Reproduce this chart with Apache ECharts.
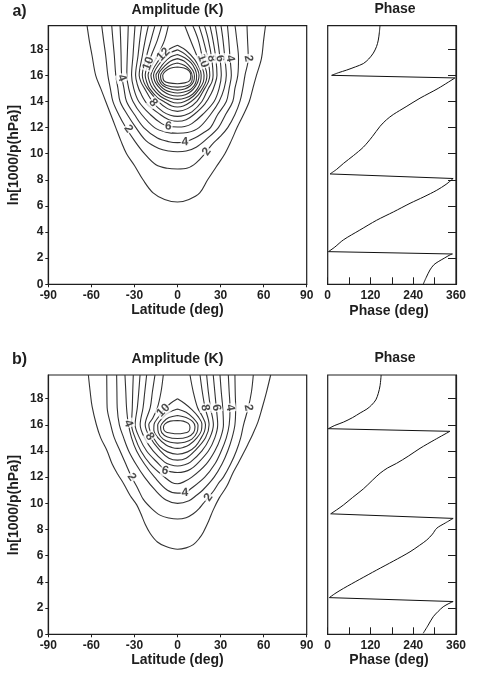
<!DOCTYPE html>
<html>
<head>
<meta charset="utf-8">
<script src="https://cdn.jsdelivr.net/npm/echarts@6/dist/echarts.min.js"></script>
<style>
html, body { margin: 0; padding: 0; background: #fff; }
#main { width: 477px; height: 673px; }
</style>
</head>
<body>
<div id="main"></div>
<script>
// tick labels
var latTicks = [-90, -60, -30, 0, 30, 60, 90];
var zTicks = [0, 2, 4, 6, 8, 10, 12, 14, 16, 18];
var phaseLabels = [0, 120, 240, 360];
var phaseTicks = [0, 60, 120, 180, 240, 300, 360];

// panel a: amplitude contours, [latitude, ln(1000/p)], levels 1..17 K
var ampA1 = [[-63,19.8],[-61.5,18.7],[-59.5,17.5],[-57,16],[-53.5,15],[-50,14],[-46.5,13],[-43,12],[-39.5,11],[-35.5,10],[-30,9.1],[-24,8],[-17,7],[-9,6.5],[0,6.3],[8,6.5],[15.5,7],[21,8],[27,9],[33,10],[37.5,11],[41.5,12],[46,13],[50,14],[52.5,15],[55,16],[58.5,17.3],[60,18.7],[61.3,19.8]];
var ampA2 = [[-52.8,19.8],[-51.5,18.7],[-50,17.5],[-48.5,16],[-46.8,15],[-45,14],[-41,13],[-36,12],[-30,11],[-23,10],[-15,9.15],[-7,8.88],[0,8.83],[7,8.9],[13,9.3],[19,10],[24,10.7],[29.6,11.3],[35,12],[40,13],[43.5,14],[45.5,15],[47,16],[49.3,17.3],[48.8,18.7],[48.4,19.8]];
var ampA3 = [[-45.8,19.8],[-45,18.7],[-44,17.5],[-43,16],[-41.5,15],[-40,14],[-35,13],[-29,12],[-22,11],[-13,10.4],[-6,10.2],[0,10.15],[6,10.2],[13,10.5],[20,11.1],[28.5,12],[33.5,13],[38.5,14],[40,15],[42,16],[42.5,17.3],[41.3,18.7],[40.1,19.8]];
var ampA4 = [[-40,19.8],[-39.6,18.7],[-39.3,17.5],[-38.9,16],[-37.3,15],[-35.5,14],[-30,13],[-23.5,12],[-14,11.2],[-6,10.92],[0,10.85],[5.2,10.9],[12,11.2],[18,11.6],[23,12],[28,13],[34,14],[36,15],[37.5,16],[36.6,17.3],[35.7,18.7],[34.8,19.8]];
var ampA5 = [[-34.3,19.8],[-34.6,18.7],[-35,17.5],[-35.3,16],[-34,15],[-31,14],[-25,13],[-16,12],[-8,11.65],[0,11.56],[7,11.62],[15,12],[23,13],[29,14],[32.5,15],[34,16],[33,17.3],[31.7,18.7],[30.3,19.8]];
var ampA6 = [[-29.6,19.8],[-30.3,18.7],[-31,17.5],[-32,16],[-30.5,15],[-27,14],[-19,13],[-11,12.3],[-6.4,12.1],[0,12.04],[5,12.08],[10,12.3],[17.5,13],[25.5,14],[29,15],[30.5,16],[29.6,17.3],[28,18.7],[26.4,19.8]];
var ampA7 = [[-25,19.8],[-26.3,18.7],[-27.5,17.5],[-29.2,16],[-28,15.3],[-25.5,14.6],[-21,13.8],[-12,13],[-6,12.6],[0,12.48],[6,12.6],[11.5,13],[19,13.8],[23.5,14.6],[26,15.3],[27.5,16],[26.7,17.3],[24.7,18.7],[22.6,19.8]];
var ampA8 = [[-20.3,19.8],[-22.5,18.7],[-24.5,17.5],[-26.7,16],[-25.5,15.5],[-23,15],[-16.9,13.9],[-10,13.2],[-5,12.95],[0,12.86],[5,12.95],[10,13.2],[17,14],[21.5,15],[24,15.5],[24.8,16],[23.8,17.3],[21.5,18.7],[18.8,19.8]];
var ampA9 = [[-15.7,19.8],[-18.5,18.7],[-21.5,17.5],[-24.5,16],[-23.5,15.5],[-21,15],[-13.5,14],[-7,13.45],[0,13.24],[7,13.45],[13.5,14],[19,15],[21.5,15.5],[22.5,16],[21,17.3],[18,18.7],[14.9,19.8]];
var ampA10 = [[-11,19.8],[-14,18.7],[-18,17.6],[-20.3,16.9],[-22.5,16],[-21.5,15.5],[-19.5,15],[-14,14.3],[-9.5,14],[-4,13.65],[0,13.57],[4,13.65],[9.5,14],[14.5,14.5],[18,15.1],[20,15.6],[20.5,16],[17.9,17.1],[14.5,18.7],[10.7,19.8]];
var ampA11 = [[-6.4,19.8],[-9,18.7],[-13.5,17.6],[-17.5,16.8],[-20.5,16],[-19.5,15.5],[-17.3,15],[-12,14.4],[-5,14],[0,13.88],[5,14],[11,14.4],[15.5,15],[18,15.5],[18.5,16],[16.5,16.8],[13.5,17.5],[9,18.7],[5.1,19.8]];
var ampA12 = [[0,18.3],[-5,18.05],[-9.9,17.6],[-14,17],[-17.3,16.4],[-18.5,16],[-17.5,15.5],[-15,15],[-11,14.55],[-6,14.28],[0,14.16],[6,14.28],[10.5,14.55],[14,15],[16,15.5],[16.5,16],[15.5,16.5],[12,17.2],[6,17.9],[0,18.3]];
var ampA13 = [[0,17.95],[-5,17.72],[-9.5,17.3],[-13.5,16.75],[-16,16.3],[-16.7,16],[-15.8,15.55],[-13.5,15.15],[-10,14.78],[-5.5,14.52],[0,14.42],[5.5,14.52],[9.5,14.78],[12.5,15.15],[14.3,15.55],[15,16],[14,16.45],[11,17],[5.5,17.6],[0,17.95]];
var ampA14 = [[0,17.6],[-5,17.4],[-9.5,16.95],[-13,16.4],[-15,16],[-14.2,15.55],[-12,15.2],[-8.5,14.88],[-4.5,14.72],[0,14.65],[4.5,14.72],[8.5,14.88],[11.5,15.2],[13,15.55],[13.3,16],[12.3,16.45],[9.5,16.95],[5,17.35],[0,17.6]];
var ampA15 = [[0,17.28],[-5,17.08],[-9.5,16.65],[-12.5,16.25],[-13.3,15.95],[-12.5,15.55],[-10,15.2],[-5,14.95],[0,14.87],[5,14.95],[9,15.2],[11.3,15.55],[11.8,15.95],[10.8,16.35],[8,16.75],[4.5,17.1],[0,17.28]];
var ampA16 = [[0,16.95],[-5,16.78],[-9,16.45],[-11.5,16.1],[-11.8,15.9],[-10.8,15.5],[-7.5,15.22],[0,15.1],[7,15.22],[9.8,15.5],[10.3,15.9],[9,16.35],[5,16.75],[0,16.95]];
var ampA17 = [[0,16.64],[-5,16.55],[-8.5,16.3],[-10.3,16],[-9.5,15.6],[-6,15.42],[0,15.36],[5,15.42],[8.5,15.6],[9.3,16],[8,16.35],[4.5,16.56],[0,16.64]];

// panel b: amplitude contours, levels 1..13 K
var ampB1 = [[-62.1,19.8],[-60.8,18.5],[-59.5,17.4],[-56.5,16],[-53.5,15],[-49,14],[-45.5,13],[-41.5,12.2],[-37.5,11.5],[-33,10.6],[-28.5,9.9],[-25.5,9.2],[-22.5,8.4],[-19,7.7],[-14,7.05],[-8,6.7],[0,6.5],[6,6.6],[11,6.85],[15,7.3],[18,7.8],[21.5,8.6],[24.9,9.5],[29,10.4],[34.3,11.3],[38.5,12.3],[42,13],[45.8,13.8],[49,14.5],[52.5,15.3],[56,16.2],[59,17.3],[62,18.5],[64.9,19.8]];
var ampB2 = [[-49.3,19.8],[-49.2,18.5],[-49,17.3],[-46.5,16],[-44,15],[-40,14],[-36,13],[-31.9,12],[-27.5,11.1],[-23.8,10.3],[-18,9.6],[-12.2,9.1],[-6,8.88],[0,8.8],[6,8.9],[11,9.2],[15,9.6],[18,10],[21.5,10.45],[25.5,11],[29,11.6],[32,12],[37,13],[41,14],[44,15],[46,16],[49.3,17.3],[51.5,18.5],[52.8,19.8]];
var ampB3 = [[-42.4,19.8],[-42.2,18.5],[-42,17.3],[-40.5,16],[-37.5,15],[-34,14],[-29,13],[-23,12],[-15.5,11],[-8,10.25],[0,10],[8,10.2],[13,10.6],[17.5,11],[25.5,12],[31,13],[35,14],[38,15],[40,16],[40.5,17.3],[40.2,18.5],[40,19.8]];
var ampB4 = [[-36.6,19.8],[-36,18.5],[-35.5,17.3],[-34.3,16.1],[-32,15],[-28.5,14],[-23,13],[-16,12],[-7,11],[0,10.78],[5.2,10.8],[8,11],[19,12],[26,13],[30.5,14],[34,15],[36,16],[36.6,17.3],[36,18.5],[35.4,19.8]];
var ampB5 = [[-30.8,19.8],[-31.2,18.5],[-31.5,17.3],[-32,16],[-29.5,15],[-25.5,14],[-19,13],[-9,12],[-4,11.6],[0,11.5],[4,11.62],[10,12],[20,13],[26,14],[30,15],[32,16],[31.5,17.3],[30.5,18.5],[29.6,19.8]];
var ampB6 = [[-26.1,19.8],[-27,18.5],[-28,17.3],[-29.5,16],[-26.5,15],[-21.5,14],[-13,13],[-8.7,12.55],[-4,12.4],[0,12.35],[5,12.42],[9,12.6],[13.5,13],[21.5,14],[26,15],[28,16],[27,17.3],[26,18.5],[24.9,19.8]];
var ampB7 = [[-21.5,19.8],[-22.8,18.5],[-24,17.3],[-26,16],[-23,15],[-17,14],[-9,13.15],[-5,12.95],[0,12.85],[5,12.95],[9,13.15],[17,14],[22.5,15],[25,16],[23,17.3],[21.5,18.5],[20.3,19.8]];
var ampB8 = [[-15.7,19.8],[-17.5,18.5],[-19,17.3],[-22.5,16],[-19.5,15.1],[-12,14],[-6,13.45],[0,13.3],[6,13.45],[12,14],[19.5,15],[22,16],[19.2,17.3],[17.3,18.5],[15.7,19.8]];
var ampB9 = [[-9.9,19.8],[-11.5,18.5],[-14,17.3],[-17.5,16.45],[-20,16],[-19,15.5],[-16.8,15],[-12.5,14.35],[-7,13.93],[0,13.75],[7,13.93],[12.5,14.35],[16.5,15],[18.8,15.5],[19.5,16],[17,16.7],[14,17.3],[11,18.5],[8.7,19.8]];
var ampB10 = [[0,17.98],[-5,17.62],[-9.9,17.1],[-13.5,16.55],[-16.3,16.05],[-16.5,15.6],[-13.5,15],[-8,14.45],[-4,14.27],[0,14.2],[4,14.27],[8,14.45],[13.5,15],[16.7,15.6],[17,16.05],[14.5,16.6],[10,17.15],[5,17.62],[0,17.98]];
var ampB11 = [[0,17.21],[-6,16.95],[-10.5,16.5],[-13.8,15.95],[-13.3,15.4],[-10,14.9],[-5,14.66],[0,14.6],[5,14.66],[10,14.9],[13.5,15.4],[14.3,15.95],[11,16.5],[6,16.95],[0,17.21]];
var ampB12 = [[0,16.71],[-6,16.55],[-10,16.2],[-11.8,15.85],[-11,15.4],[-7,15.07],[0,14.95],[7,15.07],[11.2,15.4],[12.2,15.85],[10.5,16.25],[6,16.55],[0,16.71]];
var ampB13 = [[0,16.33],[-5,16.28],[-8.5,16.08],[-9.8,15.8],[-8.5,15.48],[-4,15.35],[0,15.31],[4,15.35],[7.7,15.48],[8.7,15.8],[7.5,16.1],[4,16.28],[0,16.33]];

// contour labels [lat, z, text]
var labelsA = [[-38.9,15.8,'4'],[-20.3,16.9,'10'],[-9.9,17.6,'12'],[-16.9,13.9,'8'],[-6.4,12.1,'6'],[5.2,10.9,'4'],[-34.3,11.9,'2'],[20.3,10.15,'2'],[17.9,17.1,'10'],[23.8,17.3,'8'],[29.6,17.3,'6'],[36.6,17.3,'4'],[49.3,17.3,'2']];
var labelsB = [[-34.3,16.1,'4'],[-9.9,17.1,'10'],[-19.5,15.1,'8'],[-8.7,12.5,'6'],[-31.9,12,'2'],[5.2,10.8,'4'],[21.5,10.45,'2'],[19.2,17.3,'8'],[27,17.3,'6'],[36.6,17.3,'4'],[49.3,17.3,'2']];
var labelRotA = [-70, 70, 45, -50, -8, 3, -55, 55, -70, -80, -80, -80, -80];
var labelRotB = [-70, 45, -55, -15, -55, 3, 55, -80, -80, -80, -80];

// phase [deg, z]
var phaseA = [[268,0],[276,0.5],[287,1.1],[298,1.5],[310,1.73],[327,2.0],[343,2.25],[350,2.32],[2,2.5],[20,2.85],[44,3.4],[90,4.15],[137,4.9],[185,5.55],[231,6.2],[270,6.7],[306,7.2],[332,7.65],[352,8.1],[6.5,8.45],[25,8.8],[44,9.25],[72,9.85],[100,10.5],[125,11.3],[147,12.1],[165,12.6],[184,13.0],[220,13.6],[259,14.25],[310,15.0],[357,15.8],[11,16.0],[30,16.2],[53,16.4],[78,16.65],[100,16.9],[115,17.25],[128,17.7],[137,18.2],[142,18.7],[145,19.3],[146.7,19.8]];
var phaseB = [[268,0.08],[282,0.7],[296,1.34],[310,1.75],[324,2.1],[340,2.35],[352,2.5],[4.6,2.8],[20,3.1],[44,3.5],[90,4.2],[137,4.9],[185,5.6],[231,6.3],[258,6.8],[278,7.2],[294,7.65],[306,8.1],[330,8.5],[352,8.85],[8.4,9.2],[25,9.5],[44,9.87],[70,10.45],[100,11.1],[125,11.75],[147,12.3],[168,12.7],[193,13.05],[226,13.6],[259,14.2],[300,14.85],[343,15.5],[1.7,15.7],[20,15.95],[44,16.2],[70,16.55],[91,16.9],[110,17.2],[123,17.5],[135,17.9],[142,18.4],[147,19],[150,19.8]];

var contoursA = [ampA1, ampA2, ampA3, ampA4, ampA5, ampA6, ampA7, ampA8, ampA9, ampA10, ampA11, ampA12, ampA13, ampA14, ampA15, ampA16, ampA17];
var contoursB = [ampB1, ampB2, ampB3, ampB4, ampB5, ampB6, ampB7, ampB8, ampB9, ampB10, ampB11, ampB12, ampB13];

var FONT = '"Liberation Sans", Arial, sans-serif';
var INK = '#1e1e1e';

var chart = echarts.init(document.getElementById('main'), null, { renderer: 'canvas' });

function lineSeries(pts, gi, color, width, smooth) {
    return {
        type: 'line', xAxisIndex: gi, yAxisIndex: gi, data: pts,
        symbol: 'none', showSymbol: false, smooth: smooth, silent: true,
        lineStyle: { color: color, width: width }, z: 2
    };
}

// phase: smooth pieces between wraps, straight wrap connectors
function phaseSeries(pts, gi) {
    var out = [], piece = [pts[0]];
    for (var i = 1; i < pts.length; i++) {
        if (pts[i - 1][0] - pts[i][0] > 180) {
            out.push(lineSeries(piece, gi, '#111', 1, 0.3));
            out.push(lineSeries([pts[i - 1], pts[i]], gi, '#111', 1, false));
            piece = [];
        }
        piece.push(pts[i]);
    }
    out.push(lineSeries(piece, gi, '#111', 1, 0.3));
    return out;
}

function labelSeries(list, rots, gi) {
    return {
        type: 'scatter', xAxisIndex: gi, yAxisIndex: gi, silent: true, z: 5,
        symbolSize: 1, itemStyle: { color: 'rgba(0,0,0,0)' },
        data: list.map(function (l, i) {
            return { value: [l[0], l[1]], name: l[2], label: { rotate: rots[i] } };
        }),
        label: {
            show: true, position: 'inside', formatter: '{b}',
            fontFamily: FONT, fontWeight: 'bold', fontSize: 12, color: INK,
            backgroundColor: '#fff', padding: [0, 1]
        }
    };
}

function ampX(gi) {
    return {
        gridIndex: gi, type: 'value', min: -90, max: 90, interval: 30,
        axisLine: { onZero: false, lineStyle: { color: INK, width: 1.2 } },
        axisTick: { show: true, length: 3, lineStyle: { color: INK }, customValues: latTicks },
        axisLabel: { margin: 5, fontFamily: FONT, fontWeight: 'bold', fontSize: 12, color: INK, customValues: latTicks },
        splitLine: { show: false }
    };
}
function ampY(gi) {
    return {
        gridIndex: gi, type: 'value', min: 0, max: 19.8, interval: 2,
        axisLine: { show: true, onZero: false, lineStyle: { color: INK, width: 1.2 } },
        axisTick: { show: true, length: 3, lineStyle: { color: INK }, customValues: zTicks },
        axisLabel: { margin: 5, fontFamily: FONT, fontWeight: 'bold', fontSize: 12, color: INK, customValues: zTicks },
        splitLine: { show: false }
    };
}
function phaseX(gi) {
    return {
        gridIndex: gi, type: 'value', min: 0, max: 360, interval: 60,
        axisLine: { onZero: false, lineStyle: { color: INK, width: 1.2 } },
        axisTick: { show: true, inside: true, length: 7, lineStyle: { color: INK }, customValues: phaseTicks },
        axisLabel: { margin: 5, fontFamily: FONT, fontWeight: 'bold', fontSize: 12, color: INK, customValues: phaseLabels },
        splitLine: { show: false }
    };
}
function phaseY(gi) {
    return {
        gridIndex: gi, type: 'value', min: 0, max: 19.8, interval: 2, position: 'right',
        axisLine: { show: true, onZero: false, lineStyle: { color: INK, width: 1.2 } },
        axisTick: { show: true, inside: true, length: 8, lineStyle: { color: INK }, customValues: zTicks.slice(1) },
        axisLabel: { show: false },
        splitLine: { show: false }
    };
}

function gridBox(left, top, width, height) {
    return { left: left, top: top, width: width, height: height, show: true,
        borderColor: INK, borderWidth: 1.2, backgroundColor: 'transparent', containLabel: false, outerBoundsMode: 'none' };
}

function txt(x, y, s, size, rot) {
    return {
        type: 'text', x: x, y: y, rotation: rot || 0, silent: true,
        style: { text: s, fill: INK, font: 'bold ' + size + 'px ' + FONT, textAlign: 'center', textVerticalAlign: 'middle' }
    };
}

var series = [];
contoursA.forEach(function (c) { series.push(lineSeries(c, 0, '#333', 1.1, 0.35)); });
series = series.concat(phaseSeries(phaseA, 1));
contoursB.forEach(function (c) { series.push(lineSeries(c, 2, '#333', 1.1, 0.35)); });
series = series.concat(phaseSeries(phaseB, 3));
series.push(labelSeries(labelsA, labelRotA, 0));
series.push(labelSeries(labelsB, labelRotB, 2));

var option = {
    backgroundColor: '#fff',
    animation: false,
    grid: [
        gridBox(48.3, 25.7, 258.4, 258.6),
        gridBox(327.7, 25.7, 128.3, 258.6),
        gridBox(48.3, 375, 258.4, 259.3),
        gridBox(327.7, 375, 128.3, 259.3)
    ],
    xAxis: [ampX(0), phaseX(1), ampX(2), phaseX(3)],
    yAxis: [ampY(0), phaseY(1), ampY(2), phaseY(3)],
    series: series,
    graphic: [
        txt(19.5, 12, 'a)', 16), txt(177.5, 10, 'Amplitude (K)', 14), txt(395, 9.5, 'Phase', 14),
        txt(177.5, 310.5, 'Latitude (deg)', 14), txt(389, 311, 'Phase (deg)', 14),
        txt(14, 155, 'ln[1000/p(hPa)]', 14, Math.PI / 2),
        txt(19.5, 360, 'b)', 16), txt(177.5, 359, 'Amplitude (K)', 14), txt(395, 358.5, 'Phase', 14),
        txt(177.5, 660.5, 'Latitude (deg)', 14), txt(389, 660, 'Phase (deg)', 14),
        txt(14, 505, 'ln[1000/p(hPa)]', 14, Math.PI / 2)
    ]
};
chart.setOption(option);
</script>
</body>
</html>
